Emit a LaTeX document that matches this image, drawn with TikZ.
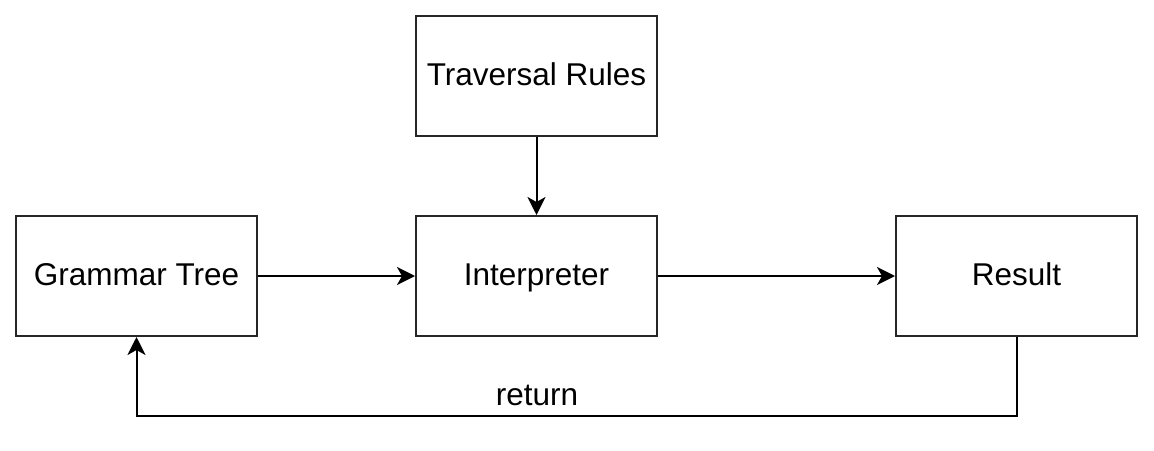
\documentclass[tikz,border=0pt]{standalone}
\usepackage{fontspec}
\setmainfont{Liberation Sans}
\usetikzlibrary{arrows.meta}
\begin{document}
\begin{tikzpicture}[x=1pt,y=-1pt,
  boxnode/.style={draw=black!85,line width=2pt,minimum width=241pt,minimum height=120pt,inner sep=0pt,font=\fontsize{31.5}{36}\selectfont,text height=24pt,text depth=5pt,fill=white},
  conn/.style={line width=2pt,-{Stealth[length=18pt,width=18pt,inset=5pt]}}]
\useasboundingbox (0,0) rectangle (1154,450);
\node[boxnode] (rules) at (536.5,76) {Traversal Rules};
\node[boxnode] (tree) at (136.5,276) {Grammar Tree};
\node[boxnode] (interp) at (536.5,276) {Interpreter};
\node[boxnode] (result) at (1016.5,276) {Result};
\draw[conn] (rules) -- (interp);
\draw[conn] (tree) -- (interp);
\draw[conn] (interp) -- (result);
\coordinate (c1) at (1016.5,416);
\coordinate (c2) at (136.5,416);
\draw[conn] (result.south) -- (c1) -- (c2) -- (tree.south);
\node[font=\fontsize{31.5}{36}\selectfont,inner sep=0pt,text height=24pt,text depth=5pt] (ret) at (537,396) {return};
\end{tikzpicture}
\end{document}
